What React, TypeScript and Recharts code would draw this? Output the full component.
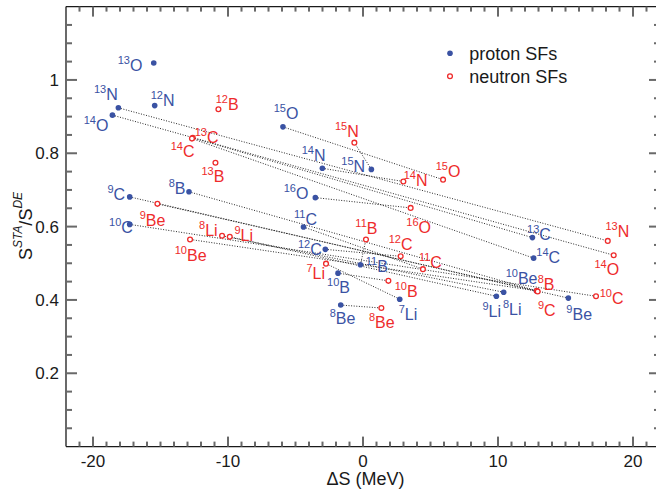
import React from 'react';
import { ScatterChart, Scatter, XAxis, YAxis, Legend } from 'recharts';

// proton removal (filled) — nucleus, ΔS (MeV), S_STA/S_DE
const protonNuclei = ['13O', '12N', '13N', '14O', '15O', '14N', '15N', '16O', '8B', '9C', '10C', '11C', '12C', '11B', '10B', '8Be', '7Li', '9Li', '8Li', '10Be', '9Be', '13C', '14C'];
const protonDeltaS = [-15.5, -15.43, -18.12, -18.56, -5.93, -3.01, 0.62, -3.53, -12.89, -17.28, -17.28, -4.41, -2.79, -0.19, -1.85, -1.65, 2.72, 9.88, 10.42, 12.84, 15.21, 12.55, 12.64];
const protonRatio = [1.046, 0.93, 0.924, 0.904, 0.872, 0.759, 0.756, 0.679, 0.695, 0.681, 0.606, 0.599, 0.538, 0.496, 0.473, 0.386, 0.402, 0.41, 0.421, 0.425, 0.405, 0.57, 0.514];

// neutron removal (open)
const neutronNuclei = ['12B', '13C', '14C', '13B', '15N', '14N', '15O', '16O', '11B', '12C', '11C', '10B', '8Be', '7Li', '9Be', '8Li', '9Li', '10Be', '13N', '14O', '10C', '8B', '9C'];
const neutronDeltaS = [-10.71, -12.61, -12.67, -10.93, -0.64, 2.99, 5.93, 3.53, 0.22, 2.79, 4.44, 1.88, 1.36, -2.74, -15.23, -10.44, -9.87, -12.81, 18.13, 18.57, 17.26, 12.87, 12.94];
const neutronRatio = [0.92, 0.842, 0.84, 0.774, 0.829, 0.723, 0.728, 0.651, 0.565, 0.519, 0.484, 0.452, 0.378, 0.499, 0.662, 0.575, 0.572, 0.565, 0.561, 0.522, 0.41, 0.425, 0.423];

const xMajorTicks = [-20, -10, 0, 10, 20];
const yMajorTicks = [0.2, 0.4, 0.6, 0.8, 1];

const xMinorTicks = Array.from({ length: 43 }, (_, i) => i - 21).filter((v) => v % 10 !== 0);
const yMinorTicks = Array.from({ length: 23 }, (_, i) => i + 1).filter((k) => k % 4 !== 0).map((k) => k * 0.05);
const xTicks = [...xMajorTicks, ...xMinorTicks].sort((a, b) => a - b);
const yTicks = [...yMajorTicks, ...yMinorTicks].sort((a, b) => a - b);

const BLUE = '#3a52a3';
const RED = '#ee2b2b';
const INK = '#1a1a1a';
const TICK = 'dimgray';
const FONT = '"Liberation Sans", Arial, Helvetica, sans-serif';
const PROTON_LABEL = 'proton SFs';
const NEUTRON_LABEL = 'neutron SFs';

// label placement in px relative to the marker: [left of superscript, baseline]
const labelOffsets: Record<string, [number, number]> = {
    p13O: [-36, 8], p12N: [-4, 0.5], p13N: [-24.4, -7.7], p14O: [-28.7, 16], p15O: [-9.3, -7.7],
    p14N: [-20.7, -7.3], p15N: [-30, 2.4], p16O: [-31.7, 1.6], p8B: [-20.3, 2.6], p9C: [-22.3, 3.3],
    p10C: [-20.7, 9], p11C: [-9.4, -2], p12C: [-27.4, 5.7], p11B: [5.3, 7.6], p10B: [-11, 20],
    p8Be: [-11, 19.3], p7Li: [-1, 21], p9Li: [-14, 21], p8Li: [-0.7, 22.7], p10Be: [-30.7, -6.7],
    p9Be: [-2, 22], p13C: [-5.4, 2.3], p14C: [2.7, 5.3],
    n12B: [-2.7, 0.7], n13C: [2, 5.6], n14C: [-21.3, 18], n13B: [-14, 19.3], n15N: [-19.4, -6],
    n14N: [0.3, 4.7], n15O: [-7.3, -3], n16O: [-4.3, 25.3], n11B: [-10.6, -5], n12C: [-12, -6.3],
    n11C: [-4, -0.7], n10B: [6.3, 16.6], n8Be: [-12.4, 19.7], n7Li: [-19.6, 15], n9Be: [-17.7, 21.7],
    n8Li: [-23, 0.3], n9Li: [4.7, 4.3], n10Be: [-15.3, 21.4], n13N: [-2.3, -3.7], n14O: [-19.3, 19.7],
    n10C: [3.7, 7.7], n8B: [1, -0.7], n9C: [0.3, 24.3],
};

const protonData = protonNuclei.map((name, i) => ({ name, x: protonDeltaS[i], y: protonRatio[i] }));
const neutronData = neutronNuclei.map((name, i) => ({ name, x: neutronDeltaS[i], y: neutronRatio[i] }));

// each nucleus seen in both channels gets a dotted link
const pairs = protonData
    .map((p) => [p, neutronData.find((n) => n.name === p.name)])
    .filter((pair) => pair[1]) as Array<[typeof protonData[0], typeof protonData[0]]>;

const Marker = ({ kind, cx, cy }: { kind: 'p' | 'n'; cx: number; cy: number }) =>
    kind === 'p' ? (
        <circle cx={cx} cy={cy} r={2.8} fill={BLUE} />
    ) : (
        <circle cx={cx} cy={cy} r={2.4} fill="#fff" stroke={RED} strokeWidth={1.3} />
    );

const makePointShape = (kind: 'p' | 'n') => (props: any) => {
    const { cx, cy, payload } = props;
    const [dx, dy] = labelOffsets[kind + payload.name] || [6, 4];
    const m = String(payload.name).match(/^(\d+)(\D+)$/) || ['', '', payload.name];
    return (
        <g>
            <Marker kind={kind} cx={cx} cy={cy} />
            <text x={cx + dx} y={cy + dy} fill={kind === 'p' ? BLUE : RED} fontFamily={FONT}>
                <tspan fontSize={11} dy={-7}>{m[1]}</tspan>
                <tspan fontSize={16} dy={7}>{m[2]}</tspan>
            </text>
        </g>
    );
};

const isMajorX = (v: number) => xMajorTicks.includes(v);
const isMajorY = (v: number) => yMajorTicks.some((t) => Math.abs(t - v) < 1e-6);

// tick marks point into the frame
const BottomTick = (props: any) => {
    const { x, y, payload } = props;
    const major = isMajorX(payload.value);
    const len = major ? 10 : 5;
    return (
        <g>
            <rect x={x - 1} y={y - len} width={2} height={len} fill={TICK} />
            {major ? (
                <text x={x} y={y + 20} textAnchor="middle" fontSize={17} fontFamily={FONT} fill={INK}>
                    {payload.value}
                </text>
            ) : null}
        </g>
    );
};

const TopTick = (props: any) => {
    const { x, y, payload } = props;
    const len = isMajorX(payload.value) ? 10 : 5;
    return <rect x={x - 1} y={y} width={2} height={len} fill={TICK} />;
};

const LeftTick = (props: any) => {
    const { x, y, payload } = props;
    const major = isMajorY(payload.value);
    const len = major ? 11 : 6;
    return (
        <g>
            <rect x={x} y={y - 1} width={len} height={2} fill={TICK} />
            {major ? (
                <text x={x - 7} y={y + 6} textAnchor="end" fontSize={17} fontFamily={FONT} fill={INK}>
                    {String(payload.value)}
                </text>
            ) : null}
        </g>
    );
};

const RightTick = (props: any) => {
    const { x, y, payload } = props;
    const len = isMajorY(payload.value) ? 11 : 6;
    return <rect x={x - len} y={y - 1} width={len} height={2} fill={TICK} />;
};

const XTitle = () => (
    <text x={365.5} y={485} textAnchor="middle" fontSize={18} fontFamily={FONT} fill={INK}>
        ΔS (MeV)
    </text>
);

const YTitle = () => (
    <text transform="translate(32,226) rotate(-90)" textAnchor="middle" fontFamily={FONT} fill={INK}>
        <tspan fontSize={18}>S</tspan>
        <tspan fontSize={12} fontStyle="italic" dy={-10}>STA</tspan>
        <tspan fontSize={18} dy={10}>/</tspan>
        <tspan fontSize={18}>S</tspan>
        <tspan fontSize={12} fontStyle="italic" dy={-10}>DE</tspan>
    </text>
);

// legend drawn as an overlay svg so that rows land at fixed pixel spots
const LegendBox = ({ payload }: any) => {
    const order = [PROTON_LABEL, NEUTRON_LABEL];
    const items = (payload || [])
        .filter((e: any) => order.includes(e.value))
        .sort((a: any, b: any) => order.indexOf(a.value) - order.indexOf(b.value));
    return (
        <svg width={656} height={120} style={{ display: 'block' }}>
            {items.map((e: any, i: number) => (
                <g key={e.value}>
                    <Marker kind={e.value === PROTON_LABEL ? 'p' : 'n'} cx={450} cy={53.3 + 23 * i} />
                    <text x={469.3} y={59.5 + 23 * i} fontSize={18} fontFamily={FONT} fill={INK}>
                        {e.value}
                    </text>
                </g>
            ))}
        </svg>
    );
};

const linkStyle = { stroke: '#111', strokeWidth: 0.9, strokeDasharray: '1 1.6' };
const frameLine = { stroke: INK, strokeWidth: 1.3 };

export default function App() {
    return (
        <div style={{ position: 'absolute', left: 0, top: 0, width: 656, height: 493, overflow: 'hidden', background: '#fff' }}>
            <ScatterChart width={662} height={493} margin={{ top: 5.6, right: 1, bottom: 0, left: 0 }}>
                <XAxis
                    type="number"
                    dataKey="x"
                    domain={[-22, 22]}
                    ticks={xTicks}
                    interval={0}
                    tickSize={0}
                    tickMargin={0}
                    tickLine={false}
                    tick={<BottomTick />}
                    height={46.4}
                    axisLine={frameLine}
                    label={<XTitle />}
                />
                <XAxis
                    xAxisId="top"
                    orientation="top"
                    type="number"
                    dataKey="x"
                    domain={[-22, 22]}
                    ticks={xTicks}
                    interval={0}
                    tickSize={0}
                    tickMargin={0}
                    tickLine={false}
                    tick={<TopTick />}
                    height={1}
                    axisLine={frameLine}
                />
                <YAxis
                    type="number"
                    dataKey="y"
                    domain={[0, 1.2]}
                    ticks={yTicks}
                    interval={0}
                    tickSize={0}
                    tickMargin={0}
                    tickLine={false}
                    tick={<LeftTick />}
                    width={66}
                    axisLine={frameLine}
                    label={<YTitle />}
                />
                <YAxis
                    yAxisId="right"
                    orientation="right"
                    type="number"
                    dataKey="y"
                    domain={[0, 1.2]}
                    ticks={yTicks}
                    interval={0}
                    tickSize={0}
                    tickMargin={0}
                    tickLine={false}
                    tick={<RightTick />}
                    width={1}
                    axisLine={frameLine}
                />
                <Legend
                    layout="vertical"
                    align="center"
                    verticalAlign="middle"
                    wrapperStyle={{ left: 0, top: 0, width: 656, height: 120, pointerEvents: 'none' }}
                    content={<LegendBox />}
                />
                {pairs.map(([p, n]) => (
                    <Scatter
                        key={'link' + p.name}
                        xAxisId="top"
                        yAxisId="right"
                        data={[p, n]}
                        line={linkStyle}
                        lineType="joint"
                        shape={() => <g />}
                        legendType="none"
                        isAnimationActive={false}
                    />
                ))}
                <Scatter
                    name={PROTON_LABEL}
                    data={protonData}
                    fill={BLUE}
                    shape={makePointShape('p')}
                    isAnimationActive={false}
                />
                <Scatter
                    name={NEUTRON_LABEL}
                    data={neutronData}
                    fill={RED}
                    shape={makePointShape('n')}
                    isAnimationActive={false}
                />
            </ScatterChart>
        </div>
    );
}
